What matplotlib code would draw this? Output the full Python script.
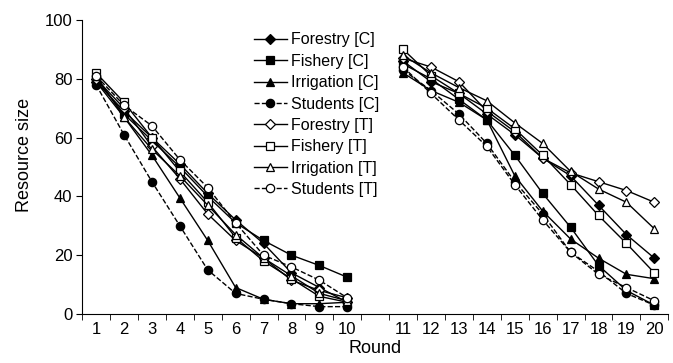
import numpy as np
import matplotlib
matplotlib.use("Agg")
import matplotlib.pyplot as plt

plt.rcParams['font.family'] = ['Liberation Sans', 'DejaVu Sans']

rounds = list(range(1, 21))

series = {
    "Forestry [C]": [79, 69, 60, 51, 41, 32, 24, 14, 9, 4,
                     86, 79, 75, 68, 61, 53, 47, 37, 27, 19],
    "Fishery [C]": [80, 68, 59, 50, 40, 31, 25, 20, 16.5, 12.5,
                    85, 80, 73, 66, 54, 41, 29.5, 16.5, 8, 3],
    "Irrigation [C]": [79, 67, 54, 39.5, 25, 9, 5, 3.5, 3.5, 4,
                       82, 76, 72, 66, 47, 35, 25.5, 19, 13.5, 12],
    "Students [C]": [78, 61, 45, 30, 15, 7, 5, 3.5, 2.5, 2.5,
                     83, 76, 68, 58, 45, 34, 21, 14.5, 7, 3],
    "Forestry [T]": [80, 70, 57, 46, 34, 25, 19, 11.5, 8, 5.5,
                     87, 84, 79, 69, 62, 53, 48, 45, 42, 38],
    "Fishery [T]": [82, 72, 60, 48.5, 38, 26, 18, 12, 6, 4,
                    90, 81, 75, 70, 63, 54, 44, 33.5, 24, 14],
    "Irrigation [T]": [81, 67, 56, 47, 37, 27, 19, 13, 7, 4.5,
                       88, 82, 77, 72.5, 65, 58, 48.5, 42.5, 38, 29],
    "Students [T]": [81, 71, 64, 52.5, 43, 31, 20, 16, 11.5, 5.5,
                     84, 75, 66, 57, 44, 32, 21, 13.5, 9, 4.5],
}

markers = {"Forestry": "D", "Fishery": "s", "Irrigation": "^", "Students": "o"}
msizes = {"Forestry": 5.5, "Fishery": 6, "Irrigation": 6, "Students": 6}

# category positions: one empty slot between round 10 and 11
pos = np.array([r if r <= 10 else r + 1 for r in rounds])

fig, ax = plt.subplots(figsize=(6.73, 3.63), dpi=100)
fig.subplots_adjust(left=0.122, right=0.993, bottom=0.135, top=0.945)

for name, vals in series.items():
    kind = name.split()[0]
    filled = "[C]" in name
    ls = "--" if kind == "Students" else "-"
    vals = np.array(vals)
    style = dict(color="black", lw=1.0, ls=ls, marker=markers[kind],
                 ms=msizes[kind], mfc="black" if filled else "white",
                 mec="black", mew=0.9)
    ax.plot(pos[:10], vals[:10], label=name, **style)
    ax.plot(pos[10:], vals[10:], **style)

ax.set_xlim(0.5, 21.5)
ax.set_ylim(0, 100)
ax.set_yticks([0, 20, 40, 60, 80, 100])
ax.set_xticks(pos)
ax.set_xticklabels([str(r) for r in rounds])
ax.set_xticks(np.arange(0.5, 22, 1), minor=True)
ax.tick_params(axis="x", which="major", length=0, labelsize=12, pad=6)
ax.tick_params(axis="x", which="minor", length=4, direction="out")
ax.tick_params(axis="y", length=4, direction="out", labelsize=12, pad=3)
for s in ["top", "right"]:
    ax.spines[s].set_visible(False)

ax.set_xlabel("Round", fontsize=13, labelpad=2)
ax.set_ylabel("Resource size", fontsize=13)
ax.yaxis.set_label_coords(-0.083, 0.54)

ax.legend(loc="upper left", bbox_to_anchor=(0.279, 0.985), frameon=False,
          fontsize=11.5, handlelength=2.1, labelspacing=0.4,
          handletextpad=0.25, borderpad=0)

fig.savefig("out.png", dpi=100)
